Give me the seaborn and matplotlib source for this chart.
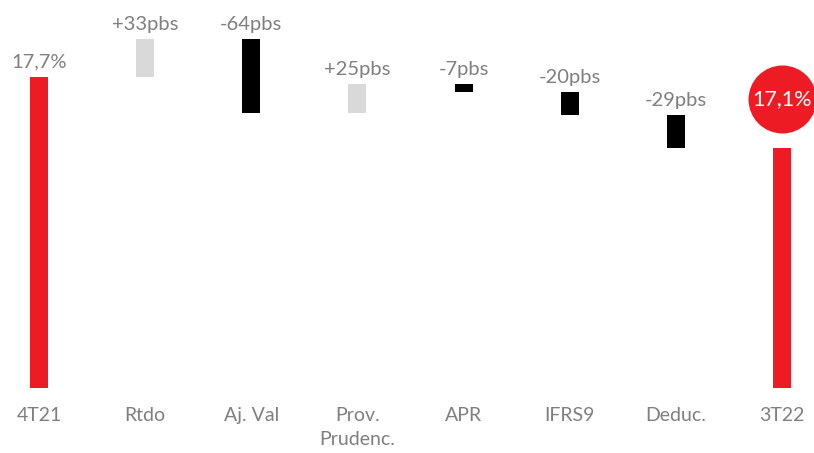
import matplotlib
matplotlib.use("Agg")
import matplotlib.pyplot as plt
import seaborn as sns
import numpy as np
import pandas as pd

# CET1 ratio bridge (%), changes in basis points
categories = ["4T21", "Rtdo", "Aj. Val", "Prov.\nPrudenc.", "APR", "IFRS9", "Deduc.", "3T22"]
start_value = 17.7
end_label = 17.1
changes_pbs = [33, -64, 25, -7, -20, -29]
change_labels = ["+33pbs", "-64pbs", "+25pbs", "-7pbs", "-20pbs", "-29pbs"]

RED = "#ED1C24"
LIGHT = "#D9D9D9"
DARK = "#000000"
TEXT = "#7F7F7F"

# Build floating-bar spans (bottom, height)
axis_floor = 15.0
bottoms, heights, colors = [axis_floor], [start_value - axis_floor], [RED]
level = start_value
for c in changes_pbs:
    d = c / 100.0
    new = level + d
    bottoms.append(min(level, new))
    heights.append(abs(d))
    colors.append(LIGHT if d > 0 else DARK)
    level = new
end_value = level
bottoms.append(axis_floor)
heights.append(end_value - axis_floor)
colors.append(RED)

df = pd.DataFrame({"cat": categories, "height": heights})

sns.set_theme(style="white")
plt.rcParams["font.family"] = ["Lato", "DejaVu Sans"]

fig = plt.figure(figsize=(8.14, 4.53), dpi=100)
ax = fig.add_axes([0, 65 / 453, 1, 388 / 453])

sns.barplot(data=df, x="cat", y="height", order=categories, bottom=bottoms,
            width=0.17, color=RED, ax=ax, errorbar=None, linewidth=0)
for patch, col in zip(ax.patches, colors):
    patch.set_facecolor(col)
    patch.set_edgecolor("none")

ax.set_ylim(axis_floor, axis_floor + 388 / 115.2)
ax.set_xlim(-0.367, 7.3)
ax.set_xlabel("")
ax.set_ylabel("")
ax.set_yticks([])
ax.tick_params(axis="x", length=0, pad=14, labelsize=14, labelcolor=TEXT)
for lbl in ax.get_xticklabels():
    lbl.set_linespacing(1.45)
    lbl.set_verticalalignment("top")
sns.despine(ax=ax, left=True, bottom=True, top=True, right=True)

# Value labels
ax.annotate(f"{start_value:.1f}%".replace(".", ","), (0, start_value),
            xytext=(0, 5), textcoords="offset points", ha="center", va="bottom",
            fontsize=14.5, color=TEXT)
for i, lab in enumerate(change_labels, start=1):
    top = bottoms[i] + heights[i]
    ax.annotate(lab, (i, top), xytext=(0, 4), textcoords="offset points",
                ha="center", va="bottom", fontsize=14.5, color=TEXT)

# Final value in a red disc
circle_y = end_value + 0.425
ax.scatter([7], [circle_y], s=(68 * 72 / 100) ** 2, color=RED, zorder=3, linewidths=0)
ax.text(7, circle_y, f"{end_label:.1f}%".replace(".", ","), ha="center", va="center",
        fontsize=15.5, color="white", zorder=4)

fig.savefig("out.png", dpi=100)
